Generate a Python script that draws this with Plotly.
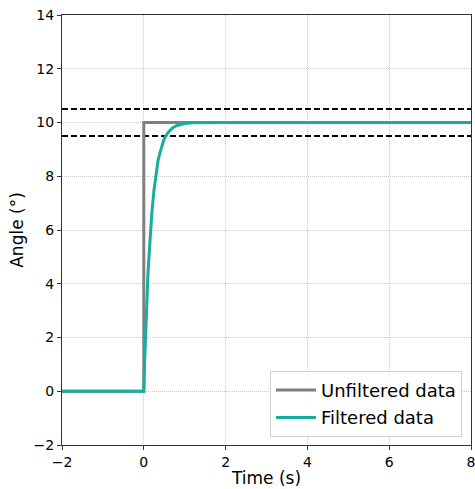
import plotly.graph_objects as go

# Unfiltered step data
t_unf = [-2, 0, 0, 8]
y_unf = [0, 0, 10, 10]

# Filtered data
t_filt = [-2, 0, 0.02, 0.05, 0.08, 0.1, 0.13, 0.15, 0.18, 0.2, 0.25, 0.3, 0.35, 0.4, 0.45, 0.5,
          0.6, 0.7, 0.8, 0.9, 1.0, 1.2, 1.5, 2, 8]
y_filt = [0, 0, 1.05, 2.4, 3.6, 4.3, 5.1, 5.7, 6.3, 6.7, 7.5, 8.1, 8.6, 8.9, 9.2, 9.4,
          9.64, 9.8, 9.88, 9.93, 9.96, 9.99, 10, 10, 10]

# Tolerance band
band = [10.5, 9.5]
x_range = [-2, 8]
y_range = [-2, 14]
x_ticks = [-2, 0, 2, 4, 6, 8]

fig = go.Figure()
for b in band:
    fig.add_trace(go.Scatter(x=x_range, y=[b, b], mode="lines",
                             line=dict(color="black", width=2, dash="6px,3px"),
                             showlegend=False, hoverinfo="skip"))
fig.add_trace(go.Scatter(x=t_unf, y=y_unf, mode="lines", name="Unfiltered data",
                         legendgroup="a", line=dict(color="#808080", width=3)))
fig.add_trace(go.Scatter(x=t_filt, y=y_filt, mode="lines", name="Filtered data",
                         legendgroup="b", line=dict(color="#17ae9f", width=3)))

axis_common = dict(showline=True, linecolor="#333333", linewidth=1, mirror=True,
                   ticks="outside", ticklen=4, tickcolor="#333333",
                   showgrid=True, gridcolor="#c8c8c8", gridwidth=1, griddash="1px,1px",
                   zeroline=False, automargin=False, ticklabeloverflow="allow",
                   tickfont=dict(size=14, color="black"))

fig.update_layout(
    width=475, height=489,
    margin=dict(l=62, r=4, t=15, b=44),
    plot_bgcolor="white", paper_bgcolor="white",
    font=dict(family="DejaVu Sans", color="black"),
    xaxis=dict(range=x_range, tickvals=x_ticks,
               title=dict(text="Time (s)", font=dict(size=17), standoff=3), **axis_common),
    yaxis=dict(range=y_range, dtick=2, title=dict(text="Angle (°)", font=dict(size=17), standoff=5), **axis_common),
    legend=dict(x=0.978, y=0.019, xanchor="right", yanchor="bottom",
                bgcolor="rgba(255,255,255,0.85)", bordercolor="#d0d0d0", borderwidth=1,
                font=dict(size=18), itemwidth=40, tracegroupgap=1),
)

fig.write_html("out.html", post_script="document.body.style.margin='0';",
               config={"displayModeBar": False})
